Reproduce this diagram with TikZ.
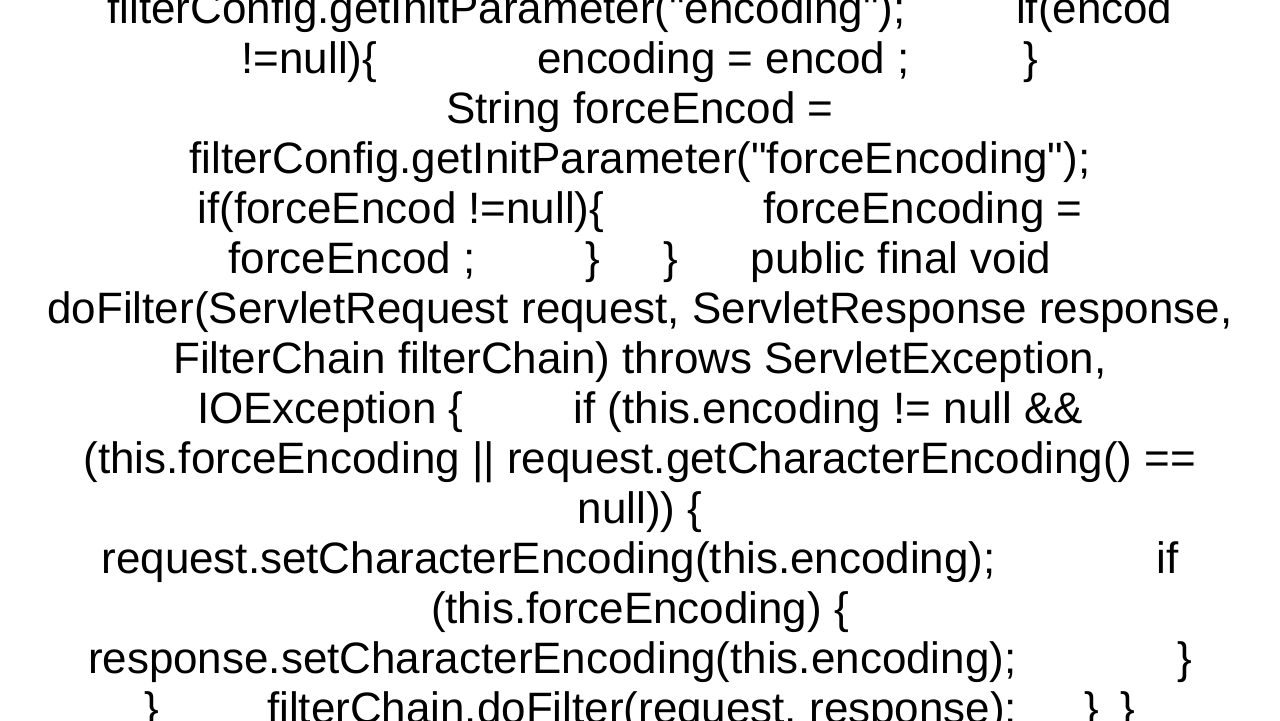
\documentclass[tikz,border=0pt]{standalone}
\usepackage{fontspec}
\setmainfont{Liberation Sans}[Ligatures=TeXOff]
\newlength\px \setlength\px{0.01cm}
\newcommand\gp[1]{\hspace{#1\px}}
\newcommand\q{\symbol{34}}
\begin{document}
\begin{tikzpicture}[x=0.01cm,y=0.01cm,
  ln/.style={anchor=base,inner sep=0pt,font=\fontsize{12.5pt}{12.5pt}\selectfont}]
\useasboundingbox (0,0) rectangle (1280,-720);
\node[ln] (l1) at (640,-23) {\makebox[1065\px][s]{filterConfig.getInitParameter(\q encoding\q);\hfill if(encod}};
\node[ln] (l2) at (640,-73) {!=null)\{\gp{160}encoding = encod ;\gp{114}\}};
\node[ln] (l3) at (640,-123) {String forceEncod =};
\node[ln] (l4) at (640,-173) {filterConfig.getInitParameter(\q forceEncoding\q);};
\node[ln] (l5) at (640,-223) {\makebox[885\px][s]{if(forceEncod !=null)\{\hfill forceEncoding =}};
\node[ln] (l6) at (640,-273) {forceEncod ;\gp{110}\}\gp{63}\}\gp{73}public final void};
\node[ln] (l7) at (640,-323) {doFilter(ServletRequest request, ServletResponse response,};
\node[ln] (l8) at (640,-373) {FilterChain filterChain) throws ServletException,};
\node[ln] (l9) at (640,-423) {\makebox[886\px][s]{IOException \{\hfill if (this.encoding != null \&\&}};
\node[ln] (l10) at (640,-473) {(this.forceEncoding || request.getCharacterEncoding() ==};
\node[ln] (l11) at (640,-523) {null)) \{};
\node[ln] (l12) at (640,-573) {\makebox[1077\px][s]{request.setCharacterEncoding(this.encoding);\hfill if}};
\node[ln] (l13) at (640,-623) {(this.forceEncoding) \{};
\node[ln] (l14) at (640,-673) {\makebox[1104\px][s]{response.setCharacterEncoding(this.encoding);\hfill \}}};
\node[ln] (l15) at (640,-723) {\}\gp{108}filterChain.doFilter(request, response);\gp{67}\}\gp{22}\}};
\end{tikzpicture}
\end{document}
